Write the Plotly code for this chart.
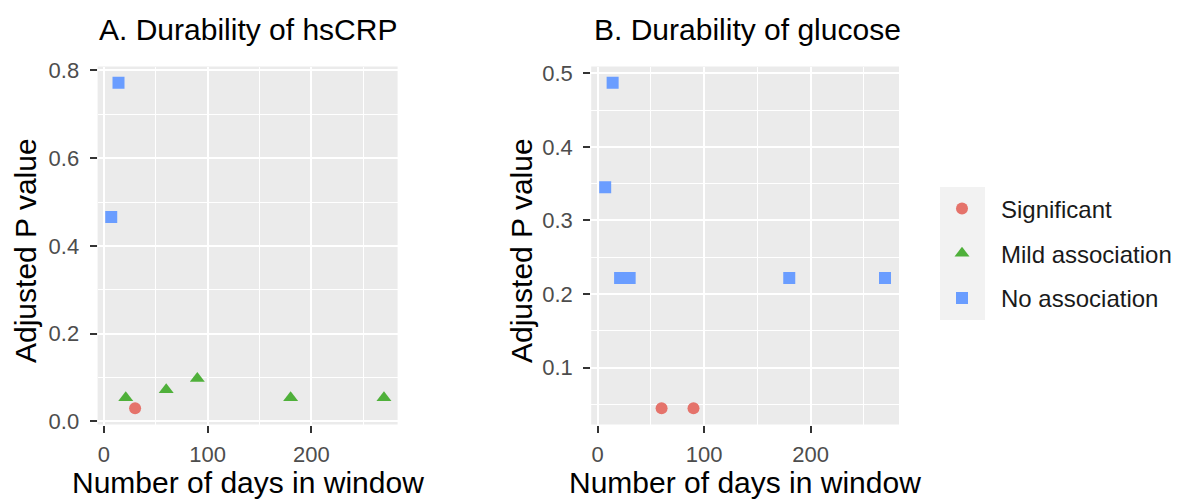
import plotly.graph_objects as go

# ---- data ----
days = [7, 14, 21, 30, 60, 90, 180, 270]
crp_p = [0.466, 0.772, 0.054, 0.030, 0.072, 0.098, 0.054, 0.054]
crp_cls = ["No association", "No association", "Mild association", "Significant",
           "Mild association", "Mild association", "Mild association", "Mild association"]
glu_p = [0.345, 0.487, 0.222, 0.222, 0.045, 0.045, 0.222, 0.222]
glu_cls = ["No association", "No association", "No association", "No association",
           "Significant", "Significant", "No association", "No association"]
classes = ["Significant", "Mild association", "No association"]
colors = {"Significant": "#E5736B", "Mild association": "#4FB03A", "No association": "#6A9DFF"}
symbols = {"Significant": "circle", "Mild association": "triangle-up", "No association": "square"}
sizes = {"Significant": 12, "Mild association": 13, "No association": 12}

W, H = 1182, 500
FONT = "Liberation Sans, Arial, Helvetica, sans-serif"

def px_x(v):
    return v / W

def px_y(v):
    return 1 - v / H

def expand(vals, m=0.05):
    lo, hi = min(vals), max(vals)
    d = (hi - lo) * m
    return [lo - d, hi + d]

fig = go.Figure()
for cls in classes:
    for ax, p, c in (("1", crp_p, crp_cls), ("2", glu_p, glu_cls)):
        xs = [d for d, k in zip(days, c) if k == cls]
        ys = [v for v, k in zip(p, c) if k == cls]
        if not xs:
            continue
        fig.add_trace(go.Scatter(
            x=xs, y=ys, mode="markers", name=cls, legendgroup=cls,
            showlegend=(ax == "1" and cls != "Significant") or (ax == "2" and cls == "Significant"),
            xaxis="x" if ax == "1" else "x2", yaxis="y" if ax == "1" else "y2",
            marker=dict(color=colors[cls], symbol=symbols[cls], size=sizes[cls], line=dict(width=0)),
        ))

axis_common = dict(
    showgrid=True, gridcolor="white", gridwidth=2, zeroline=False, showline=False,
    ticks="outside", ticklen=7, tickwidth=1.5, tickcolor="#333333", automargin=False,
    tickfont=dict(family=FONT, size=22, color="#4D4D4D"),
)
xstand = dict(ticklabelstandoff=3)
ystand = dict(ticklabelstandoff=6)

fig.update_layout(
    width=W, height=H, margin=dict(l=0, r=0, t=0, b=0, autoexpand=False),
    paper_bgcolor="white", plot_bgcolor="#EBEBEB",
    font=dict(family=FONT),
    xaxis=dict(domain=[px_x(97.6), px_x(397.6)], range=expand(days), dtick=100, tick0=0,
               minor=dict(dtick=50, tick0=0, showgrid=True, gridcolor="white", gridwidth=1, ticks=""),
               anchor="y", **axis_common, **xstand),
    yaxis=dict(domain=[px_y(424.5), px_y(66.5)], range=expand(crp_p), dtick=0.2, tick0=0,
               tickformat=".1f",
               minor=dict(dtick=0.1, tick0=0, showgrid=True, gridcolor="white", gridwidth=1, ticks=""),
               anchor="x", **axis_common, **ystand),
    xaxis2=dict(domain=[px_x(591.2), px_x(899)], range=expand(days), dtick=100, tick0=0,
                minor=dict(dtick=50, tick0=0, showgrid=True, gridcolor="white", gridwidth=1, ticks=""),
                anchor="y2", **axis_common, **xstand),
    yaxis2=dict(domain=[px_y(424.5), px_y(66.5)], range=expand(glu_p), dtick=0.1, tick0=0,
                tickformat=".1f",
                minor=dict(dtick=0.05, tick0=0, showgrid=True, gridcolor="white", gridwidth=1, ticks=""),
                anchor="x2", **axis_common, **ystand),
    legend=dict(x=px_x(923), y=px_y(186.5), xanchor="left", yanchor="top",
                bgcolor="rgba(0,0,0,0)", font=dict(family=FONT, size=24, color="#1A1A1A"),
                tracegroupgap=10.5, itemsizing="trace", itemwidth=68),
    showlegend=True,
)

# legend key background
fig.add_shape(type="rect", xref="paper", yref="paper",
              x0=px_x(940), x1=px_x(985), y0=px_y(320), y1=px_y(187),
              fillcolor="#F2F2F2", line=dict(width=0), layer="below")

ann = [
    dict(text="A. Durability of hsCRP", x=px_x(96.7), y=px_y(29), xanchor="left", yanchor="middle", size=30, angle=0),
    dict(text="B. Durability of glucose", x=px_x(591.5), y=px_y(29), xanchor="left", yanchor="middle", size=30, angle=0),
    dict(text="Number of days in window", x=px_x(247.6), y=px_y(482), xanchor="center", yanchor="middle", size=30, angle=0),
    dict(text="Number of days in window", x=px_x(745), y=px_y(482), xanchor="center", yanchor="middle", size=30, angle=0),
    dict(text="Adjusted P value", x=px_x(25), y=px_y(251), xanchor="center", yanchor="middle", size=30, angle=-90),
    dict(text="Adjusted P value", x=px_x(521), y=px_y(251), xanchor="center", yanchor="middle", size=30, angle=-90),
]
for a in ann:
    fig.add_annotation(text=a["text"], x=a["x"], y=a["y"], xref="paper", yref="paper",
                       xanchor=a["xanchor"], yanchor=a["yanchor"], textangle=a["angle"],
                       showarrow=False, font=dict(family=FONT, size=a["size"], color="black"))

fig.write_html("out.html", post_script="document.body.style.margin='0px';",
               config={"displayModeBar": False})
